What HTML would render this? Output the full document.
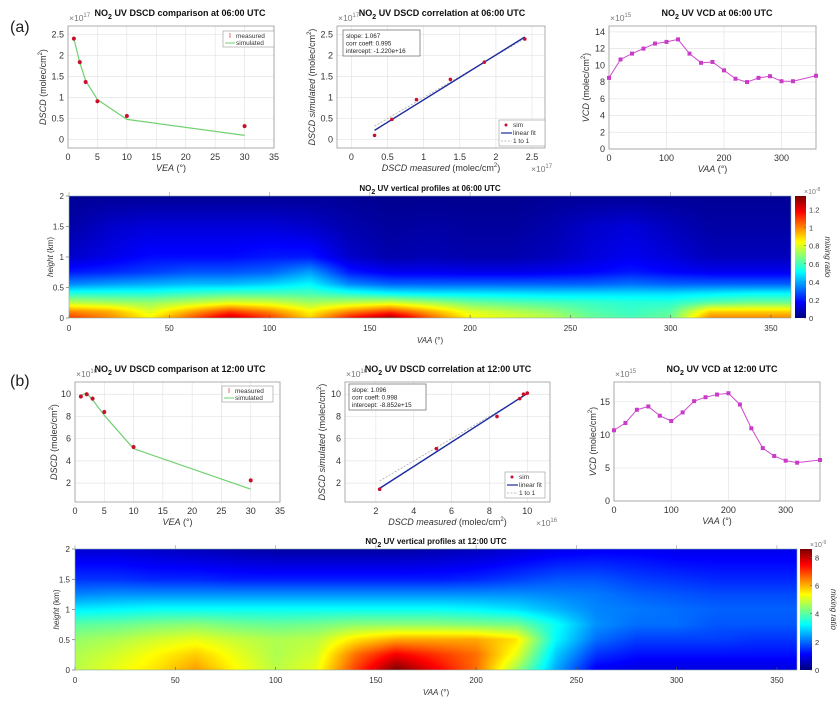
<!DOCTYPE html>
<html><head><meta charset="utf-8">
<style>
body{margin:0;background:#fff;}
#wrap{position:relative;width:838px;height:710px;overflow:hidden;font-family:"Liberation Sans",sans-serif;}
svg{position:absolute;left:0;top:0;}
canvas{position:absolute;}
</style></head>
<body>
<div id="wrap">
<canvas id="hmA" width="722" height="122" style="left:69px;top:196px"></canvas>
<canvas id="hmB" width="722" height="121" style="left:75px;top:549px"></canvas>
<canvas id="cbA" width="11" height="122" style="left:795px;top:196px"></canvas>
<canvas id="cbB" width="12" height="121" style="left:800px;top:549px"></canvas>
<svg id="svg" width="838" height="710"></svg>
</div>
<script>
// ---------- data ----------
const veaA = [1,2,3,5,10,30];
const measA = [2.4,1.84,1.37,0.91,0.56,0.32];
const simA = [2.4,1.83,1.4,0.95,0.48,0.1];
const corrMeasA = [0.32,0.56,0.9,1.37,1.84,2.4];
const corrSimA = [0.1,0.48,0.95,1.43,1.84,2.39];
const fitA = [1.067,-0.122];
const vaaVcd = [0,20,40,60,80,100,120,140,160,180,200,220,240,260,280,300,320,360];
const vcdA = [8.5,10.7,11.4,12,12.6,12.8,13.1,11.4,10.3,10.4,9.4,8.4,8.0,8.5,8.7,8.1,8.1,8.75];

const veaB = [1,2,3,5,10,30];
const measB = [9.8,10,9.6,8.4,5.25,2.25];
const simB = [9.9,10.1,9.5,8.1,5.1,1.45];
const corrMeasB = [2.2,5.2,8.4,9.6,9.8,10];
const corrSimB = [1.45,5.1,8.0,9.6,10,10.1];
const fitB = [1.096,-0.885];
const vcdB = [10.7,11.8,13.8,14.3,12.9,12.1,13.4,15.1,15.7,16.1,16.3,14.6,11.0,8.0,6.8,6.1,5.8,6.2];

const hmAz = [0,20,40,60,80,100,120,140,160,180,200,220,240,260,280,300,320,340,360];
const hmHA = [0,0.1,0.25,0.4,0.55,0.75,1.0,1.5,2.0];
const hmA = [
 [1.1,1.0,0.85,1.05,1.25,1.1,0.9,1.15,1.3,1.05,0.85,0.8,0.75,0.65,0.6,0.65,1.0,1.0,1.0],
 [1.0,0.95,0.8,0.95,1.1,1.0,0.85,1.0,1.1,0.95,0.8,0.75,0.7,0.62,0.58,0.62,0.9,0.9,0.9],
 [0.75,0.72,0.7,0.75,0.8,0.78,0.72,0.75,0.78,0.72,0.65,0.62,0.6,0.58,0.56,0.56,0.62,0.65,0.65],
 [0.55,0.55,0.55,0.58,0.6,0.6,0.6,0.55,0.5,0.48,0.48,0.47,0.46,0.46,0.46,0.46,0.48,0.5,0.5],
 [0.35,0.38,0.4,0.42,0.42,0.45,0.5,0.35,0.3,0.3,0.3,0.3,0.3,0.3,0.32,0.3,0.3,0.3,0.3],
 [0.2,0.22,0.25,0.28,0.28,0.3,0.38,0.2,0.15,0.15,0.14,0.14,0.15,0.17,0.2,0.17,0.15,0.15,0.15],
 [0.1,0.14,0.18,0.18,0.18,0.2,0.2,0.1,0.06,0.07,0.06,0.06,0.08,0.12,0.15,0.12,0.08,0.08,0.08],
 [0.05,0.1,0.12,0.12,0.12,0.12,0.1,0.06,0.04,0.05,0.04,0.04,0.06,0.1,0.12,0.08,0.05,0.05,0.05],
 [0.03,0.03,0.03,0.03,0.03,0.03,0.03,0.03,0.02,0.02,0.02,0.02,0.03,0.03,0.03,0.03,0.03,0.03,0.03]];
const hmMaxA = 1.35;
const hmHB = [0,0.25,0.5,0.75,1.0,1.25,1.5,2.0];
const hmB = [
 [4.8,5.2,5.6,6.2,5.4,4.8,5.2,7,8.6,7.6,6.6,4.6,2.5,1.0,0.8,0.8,0.8,0.8,0.8],
 [4.7,5,5.4,5.8,5.2,4.7,5,6.6,7.6,7.1,6.6,5.2,2.8,1.5,1.2,1.2,1.2,1.2,1.2],
 [4.5,4.7,5,5.2,4.9,4.7,4.8,5.6,6.1,6.1,6.1,5.6,3.2,2,1.6,1.6,1.6,1.5,1.5],
 [4,4.1,4.3,4.4,4.2,4.1,4.2,4.4,4.4,4.4,4.3,4.2,3.3,2.3,2,2,1.8,1.8,1.8],
 [3.1,3.2,3.3,3.3,3.3,3.3,3.3,3.3,3.3,3.3,3.2,3,2.6,2.2,2.1,2,1.9,1.9,1.9],
 [2.2,2.3,2.3,2.3,2.3,2.3,2.3,2.3,2.3,2.3,2.3,2.3,2.2,2.1,1.9,1.8,1.7,1.7,1.7],
 [1.5,1.5,1.4,1.4,1.3,1.3,1.3,1.3,1.3,1.3,1.4,1.6,1.8,1.8,1.6,1.5,1.4,1.4,1.4],
 [0.7,0.7,0.6,0.5,0.4,0.3,0.3,0.3,0.3,0.4,0.5,0.7,0.9,1.0,1.0,0.9,0.9,0.9,0.9]];
const hmMaxB = 8.6;

// ---------- helpers ----------
const NS = "http://www.w3.org/2000/svg";
const svg = document.getElementById('svg');
function mk(tag, attrs, parent, txt){
  const e = document.createElementNS(NS, tag);
  for (const k in attrs) e.setAttribute(k, attrs[k]);
  if (txt !== undefined) e.textContent = txt;
  (parent || svg).appendChild(e);
  return e;
}
function txt(x,y,s,size,anchor,parent,extra){
  const t = mk('text', Object.assign({x:x,y:y,'font-size':size,'text-anchor':anchor||'middle',fill:'#333'}, extra||{}), parent);
  t.innerHTML = s;
  return t;
}
function axes(c){
  const g = mk('g', {});
  
  
  const sx = v => c.x0 + (v - c.xmin) / (c.xmax - c.xmin) * (c.x1 - c.x0);
  const sy = v => c.y1 - (v - c.ymin) / (c.ymax - c.ymin) * (c.y1 - c.y0);
  c.xticks.forEach(v => {
    mk('line', {x1:sx(v),x2:sx(v),y1:c.y0,y2:c.y1,stroke:'#e4e4e4','stroke-width':0.7}, g);
    txt(sx(v), c.y1+12, String(v), 9, 'middle', g);
  });
  c.yticks.forEach(v => {
    mk('line', {x1:c.x0,x2:c.x1,y1:sy(v),y2:sy(v),stroke:'#e4e4e4','stroke-width':0.7}, g);
    txt(c.x0-4, sy(v)+3, String(v), 9, 'end', g);
  });
  mk('rect', {x:c.x0,y:c.y0,width:c.x1-c.x0,height:c.y1-c.y0,fill:'none',stroke:'#999','stroke-width':0.8}, g);
  const xl = txt((c.x0+c.x1)/2, c.y1+23, c.xlabel, 9, 'middle', g);
  
  const yl = txt(0,0,c.ylabel,9,'middle',g,{transform:`translate(${c.x0-(c.ylo||20)},${(c.y0+c.y1)/2}) rotate(-90)`});
  
  const tt = txt(c.tx, c.y0-10, c.title, 9, 'middle', g, {'font-weight':'bold',fill:'#111'});
  
  if (c.expTop) txt(c.x0+1, c.y0-5, c.expTop, 8.5, 'start', g, {fill:'#777'});
  if (c.expBot) txt(c.x1-14, c.y1+24, c.expBot, 8.5, 'start', g, {fill:'#777'});
  return {sx, sy, g};
}
function poly(g, xs, ys, ax, stroke, w, dash){
  const pts = xs.map((x,i)=>ax.sx(x)+','+ax.sy(ys[i])).join(' ');
  const p = mk('polyline', {points:pts,fill:'none',stroke:stroke,'stroke-width':w,'stroke-dasharray':dash||'none'}, g);
  return p;
}
function dots(g, xs, ys, ax, fill, r, name){
  xs.forEach((x,i)=>{
    const c = mk('circle', {cx:ax.sx(x),cy:ax.sy(ys[i]),r:r,fill:fill}, g);
    
    
  });
}
const NO2 = 'NO<tspan font-size="7" dy="3">2</tspan><tspan dy="-3"> </tspan>';
const DSCDY = '<tspan font-style="italic">DSCD</tspan> (molec/cm<tspan font-size="6" dy="-4">2</tspan><tspan dy="4">)</tspan>';

function comparison(c, vea, meas, sim){
  const ax = axes(c);
  poly(ax.g, vea, sim, ax, '#6fd16f', 1.2);
  vea.forEach((x,i)=>{
    mk('line',{x1:ax.sx(x),x2:ax.sx(x),y1:ax.sy(meas[i])-2.5,y2:ax.sy(meas[i])+2.5,stroke:'#e88','stroke-width':0.6},ax.g);
  });
  dots(ax.g, vea, meas, ax, '#c8102e', 2, 'measured-point');
  const L = c.leg;
  const lg = mk('g',{},ax.g);
   
  mk('rect',{x:L[0],y:L[1],width:51,height:16,fill:'#fff',stroke:'#999','stroke-width':0.6},lg);
  mk('line',{x1:L[0]+7,x2:L[0]+7,y1:L[1]+2,y2:L[1]+7,stroke:'#c33','stroke-width':0.7},lg);
  txt(L[0]+13,L[1]+7,'measured',6.5,'start',lg);
  mk('line',{x1:L[0]+2,x2:L[0]+12,y1:L[1]+12,y2:L[1]+12,stroke:'#6fd16f','stroke-width':1},lg);
  txt(L[0]+13,L[1]+14,'simulated',6.5,'start',lg);
}
function correlation(c, mx, my, fit, stats){
  const ax = axes(c);
  const lo = Math.min(...mx), hi = Math.max(...mx);
  poly(ax.g, [lo,hi], [lo,hi], ax, '#aaa', 0.8, '2,1.5');
  const fl = poly(ax.g, [lo,hi], [fit[0]*lo+fit[1], fit[0]*hi+fit[1]], ax, '#1a2aa0', 1.4);
  
  dots(ax.g, mx, my, ax, '#c8102e', 1.8, 'sim-point');
  const S = c.stat;
  const sg = mk('g',{},ax.g);
   
  mk('rect',{x:S[0],y:S[1],width:77,height:26,fill:'#fff',stroke:'#666','stroke-width':0.7},sg);
  stats.forEach((s,i)=>txt(S[0]+3,S[1]+8+i*7.5,s,6.3,'start',sg,{fill:'#222'}));
  const L = c.leg;
  const lg = mk('g',{},ax.g);
   
  mk('rect',{x:L[0],y:L[1],width:c.lw,height:26,fill:'#fff',stroke:'#999','stroke-width':0.6},lg);
  mk('circle',{cx:L[0]+7,cy:L[1]+5,r:1.5,fill:'#c8102e'},lg);
  txt(L[0]+14,L[1]+7,'sim',6.5,'start',lg);
  mk('line',{x1:L[0]+2,x2:L[0]+13,y1:L[1]+13,y2:L[1]+13,stroke:'#1a2aa0','stroke-width':1.2},lg);
  txt(L[0]+14,L[1]+15,'linear fit',6.5,'start',lg);
  mk('line',{x1:L[0]+2,x2:L[0]+13,y1:L[1]+21,y2:L[1]+21,stroke:'#aaa','stroke-width':0.8,'stroke-dasharray':'2,1.5'},lg);
  txt(L[0]+14,L[1]+23,'1 to 1',6.5,'start',lg);
}
function vcd(c, xs, ys){
  const ax = axes(c);
  const p = poly(ax.g, xs, ys, ax, '#d04ad0', 1);
  
  xs.forEach((x,i)=>{
    const r = mk('rect',{x:ax.sx(x)-2,y:ax.sy(ys[i])-2,width:4,height:4,fill:'#c83cc8'},ax.g);
    
    
  });
}
const VEA = '<tspan font-style="italic">VEA</tspan> (°)';
const VAA = '<tspan font-style="italic">VAA</tspan> (°)';
const VCDY = '<tspan font-style="italic">VCD</tspan> (molec/cm<tspan font-size="6" dy="-4">2</tspan><tspan dy="4">)</tspan>';
const SIMY = '<tspan font-style="italic">DSCD simulated</tspan> (molec/cm<tspan font-size="6" dy="-4">2</tspan><tspan dy="4">)</tspan>';
const MEASX = '<tspan font-style="italic">DSCD measured</tspan> (molec/cm<tspan font-size="6" dy="-4">2</tspan><tspan dy="4">)</tspan>';
const e = n => '×10<tspan font-size="6" dy="-4">'+n+'</tspan>';

// panel labels
txt(10,32,'(a)',16,'start',svg,{fill:'#222'});
txt(10,386,'(b)',16,'start',svg,{fill:'#222'});

// row a
comparison({name:'dscd-comparison-06',x0:68,x1:274,y0:26,y1:148,xmin:0,xmax:35,ymin:-0.2,ymax:2.7,
  xticks:[0,5,10,15,20,25,30,35],yticks:[0,0.5,1,1.5,2,2.5],xlabel:VEA,ylabel:DSCDY,ylo:22,
  title:NO2+'UV DSCD comparison at 06:00 UTC',tx:180,expTop:e(17),leg:[223,31]}, veaA, measA, simA);
correlation({name:'dscd-correlation-06',x0:337,x1:545,y0:26,y1:148,xmin:-0.2,xmax:2.68,ymin:-0.2,ymax:2.7,
  xticks:[0,0.5,1,1.5,2,2.5],yticks:[0,0.5,1,1.5,2,2.5],xlabel:MEASX,ylabel:SIMY,ylo:22,
  title:NO2+'UV DSCD correlation at 06:00 UTC',tx:442,expTop:e(17),expBot:e(17),stat:[343,30],leg:[499,120],lw:46},
  corrMeasA, corrSimA, fitA, ['slope: 1.067','corr coeff: 0.995','intercept: -1.220e+16']);
vcd({name:'vcd-06',x0:609,x1:816,y0:26,y1:149,xmin:0,xmax:360,ymin:0,ymax:14.7,
  xticks:[0,100,200,300],yticks:[0,2,4,6,8,10,12,14],xlabel:VAA,ylabel:VCDY,ylo:20,
  title:NO2+'UV VCD at 06:00 UTC',tx:717,expTop:e(15)}, vaaVcd, vcdA);

// row b
comparison({name:'dscd-comparison-12',x0:75,x1:280,y0:382,y1:502,xmin:0,xmax:35,ymin:0.3,ymax:11.1,
  xticks:[0,5,10,15,20,25,30,35],yticks:[2,4,6,8,10],xlabel:VEA,ylabel:DSCDY,ylo:18,
  title:NO2+'UV DSCD comparison at 12:00 UTC',tx:180,expTop:e(16),leg:[222,386]}, veaB, measB, simB);
correlation({name:'dscd-correlation-12',x0:345,x1:550,y0:382,y1:502,xmin:0.37,xmax:11.2,ymin:0.3,ymax:11.1,
  xticks:[2,4,6,8,10],yticks:[2,4,6,8,10],xlabel:MEASX,ylabel:SIMY,ylo:20,
  title:NO2+'UV DSCD correlation at 12:00 UTC',tx:448,expTop:e(16),expBot:e(16),stat:[349,384],leg:[505,472],lw:40},
  corrMeasB, corrSimB, fitB, ['slope: 1.096','corr coeff: 0.998','intercept: -8.852e+15']);
vcd({name:'vcd-12',x0:614,x1:820,y0:382,y1:501,xmin:0,xmax:360,ymin:0,ymax:18,
  xticks:[0,100,200,300],yticks:[0,5,10,15],xlabel:VAA,ylabel:VCDY,ylo:18,
  title:NO2+'UV VCD at 12:00 UTC',tx:722,expTop:e(15)}, vaaVcd, vcdB);

// ---------- heatmaps ----------
function jet(t){
  t = Math.max(0, Math.min(1, t));
  const cl = v => Math.max(0, Math.min(1, v));
  return [cl(1.5-Math.abs(4*t-3))*255, cl(1.5-Math.abs(4*t-2))*255, cl(1.5-Math.abs(4*t-1))*255];
}
function interp(az, h, hs, grid){
  let i = Math.min(hmAz.length-2, Math.floor(az/20)); const fx = (az - hmAz[i])/20;
  let j = 0; while (j < hs.length-2 && h > hs[j+1]) j++;
  const fy = Math.max(0, Math.min(1, (h - hs[j])/(hs[j+1]-hs[j])));
  const a = grid[j][i]*(1-fx)+grid[j][i+1]*fx;
  const b = grid[j+1][i]*(1-fx)+grid[j+1][i+1]*fx;
  return a*(1-fy)+b*fy;
}
function drawHeat(id, hs, grid, vmax){
  const cv = document.getElementById(id), ctx = cv.getContext('2d');
  const W = cv.width, H = cv.height, img = ctx.createImageData(W,H);
  for (let y=0;y<H;y++) for (let x=0;x<W;x++){
    const v = interp(x/(W-1)*360, (1 - y/(H-1))*2, hs, grid);
    const c = jet(v/vmax), k = (y*W+x)*4;
    img.data[k]=c[0]; img.data[k+1]=c[1]; img.data[k+2]=c[2]; img.data[k+3]=255;
  }
  ctx.putImageData(img,0,0);
}
function drawBar(id){
  const cv = document.getElementById(id), ctx = cv.getContext('2d');
  for (let y=0;y<cv.height;y++){ const c = jet(1 - y/(cv.height-1)); ctx.fillStyle=`rgb(${c[0]|0},${c[1]|0},${c[2]|0})`; ctx.fillRect(0,y,cv.width,1); }
}
drawHeat('hmA', hmHA, hmA, hmMaxA); drawHeat('hmB', hmHB, hmB, hmMaxB);
drawBar('cbA'); drawBar('cbB');

function heatAxes(c){
  const g = mk('g',{});
  
  
  const sx = v => c.x0 + v/360*(c.x1-c.x0);
  const sy = v => c.y1 - v/2*(c.y1-c.y0);
  [0,50,100,150,200,250,300,350].forEach(v=>{
    mk('line',{x1:sx(v),x2:sx(v),y1:c.y1,y2:c.y1-3,stroke:'#555','stroke-width':0.6},g);
    mk('line',{x1:sx(v),x2:sx(v),y1:c.y0,y2:c.y0-4,stroke:'#999','stroke-width':0.6},g);
    txt(sx(v),c.y1+13,String(v),8,'middle',g);
  });
  [0,0.5,1,1.5,2].forEach(v=>{
    mk('line',{x1:c.x0-3,x2:c.x0,y1:sy(v),y2:sy(v),stroke:'#555','stroke-width':0.6},g);
    txt(c.x0-5,sy(v)+3,String(v),8,'end',g);
  });
  mk('rect',{x:c.x0,y:c.y0,width:c.x1-c.x0,height:c.y1-c.y0,fill:'none',stroke:'#8aa','stroke-width':0.6},g);
  txt((c.x0+c.x1)/2,c.y1+25,VAA,8,'middle',g);
  txt(0,0,'<tspan font-style="italic">height</tspan> (km)',8,'middle',g,{transform:`translate(${c.x0-16},${(c.y0+c.y1)/2}) rotate(-90)`});
  txt((c.x0+c.x1)/2,c.y0-5,NO2+'UV vertical profiles at '+c.time,8,'middle',g,{'font-weight':'bold',fill:'#111'});
  const cb = c.cb;
  const bsy = v => c.y1 - v/c.vmax*(c.y1-c.y0);
  c.cticks.forEach(v=>{
    mk('line',{x1:cb[1]-2,x2:cb[1],y1:bsy(v),y2:bsy(v),stroke:'#555','stroke-width':0.5},g);
    txt(cb[1]+3,bsy(v)+3,String(v),7.5,'start',g);
  });
  txt(cb[1]-2,c.y0-2,'×10<tspan font-size="5" dy="-3">'+c.cexp+'</tspan>',7,'start',g,{fill:'#777'});
  txt(0,0,'<tspan font-style="italic">mixing ratio</tspan>',8,'middle',g,{transform:`translate(${cb[1]+19},${(c.y0+c.y1)/2}) rotate(90)`});
}
heatAxes({name:'vertical-profile-06',x0:69,x1:791,y0:196,y1:318,time:'06:00 UTC',cb:[795,806],vmax:hmMaxA,cticks:[0,0.2,0.4,0.6,0.8,1,1.2],cexp:'-8'});
heatAxes({name:'vertical-profile-12',x0:75,x1:797,y0:549,y1:670,time:'12:00 UTC',cb:[800,812],vmax:hmMaxB,cticks:[0,2,4,6,8],cexp:'-9'});
</script>
</body></html>
